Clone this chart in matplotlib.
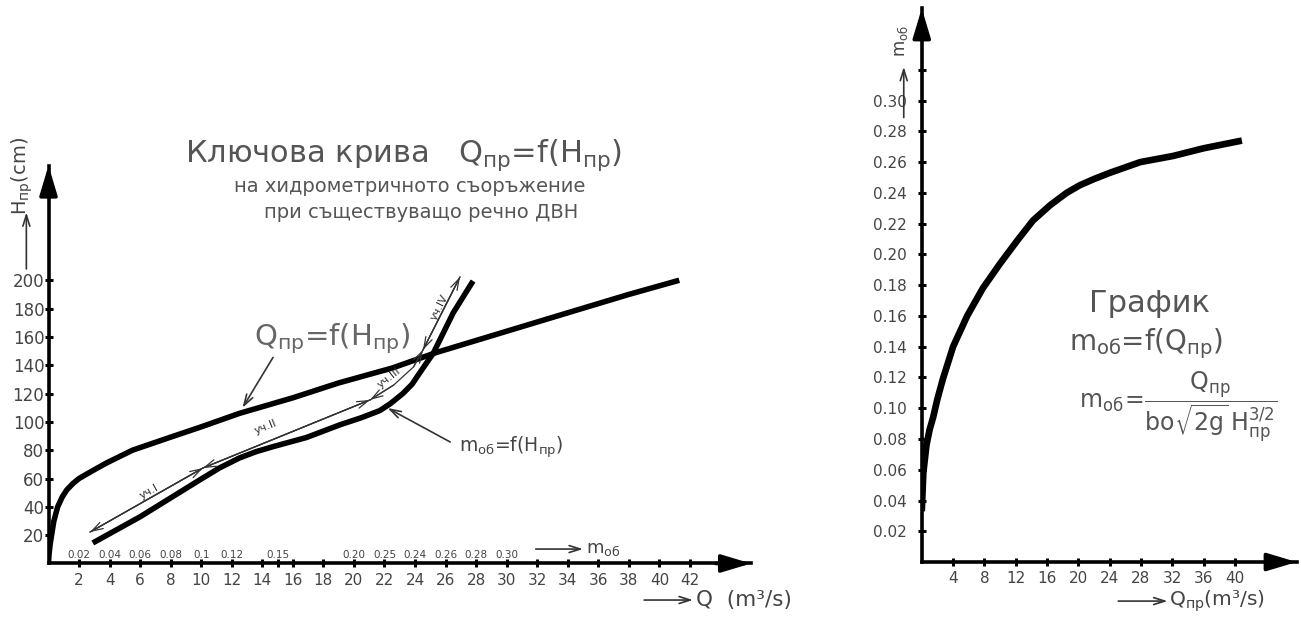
import matplotlib.pyplot as plt

plt.rcParams['font.family'] = ['DejaVu Sans']
plt.rcParams['mathtext.default'] = 'regular'

# left chart: key curve Q_пр = f(H_пр)
q_key = [0, 0.03, 0.1, 0.2, 0.35, 0.6, 0.9, 1.2, 1.6, 2.0, 2.8, 3.8, 5.5, 7.8, 10.0,
         12.5, 16.0, 19.0, 22.5, 25.4, 30.0, 34.3, 38.0, 41.3]
h_key = [0, 6, 13, 20, 30, 40, 47, 52, 56.5, 60, 65, 71, 80, 88.5, 96.5,
         106, 117, 127.5, 138, 149, 164, 178, 190, 200]

# left chart: m_об = f(H_пр), drawn on the same Q axis
q_mob = [2.9, 6.0, 9.9, 11.2, 12.5, 13.6, 14.7, 16.9, 19.1, 20.5, 21.7, 22.4, 23.2,
         23.8, 24.3, 25.2, 26.5, 27.8]
h_mob = [14.5, 33, 59, 67.5, 74.5, 79, 82.5, 89, 98, 103, 108, 113, 120,
         126.5, 134.5, 148.6, 177, 199.5]

q_ticks = [2, 4, 6, 8, 10, 12, 14, 15, 16, 18, 20, 22, 24, 26, 28, 30, 32, 34, 36,
           38, 40, 42, 44]
q_ticklabels = ['2', '4', '6', '8', '10', '12', '14', '', '16', '18', '20', '22', '24',
                '26', '28', '30', '32', '34', '36', '38', '40', '42', '']
h_ticks = [20, 40, 60, 80, 100, 120, 140, 160, 180, 200]

m_scale_q = [2, 4, 6, 8, 10, 12, 15, 20, 22, 24, 26, 28, 30]
m_scale_labels = ['0.02', '0.04', '0.06', '0.08', '0.1', '0.12', '0.15', '0.20',
                  '0.25', '0.24', '0.26', '0.28', '0.30']

# sections уч.I - уч.IV along the m_об curve
seg_names = ['уч.I', 'уч.II', 'уч.III', 'уч.IV']
seg_q = [[2.72, 10.11], [10.11, 21.05], [21.05, 22.6, 23.9, 24.52], [24.52, 26.94]]
seg_h = [[22.2, 67.4], [67.4, 115.5], [115.5, 126, 138.8, 150.8], [150.8, 202.3]]
seg_label_q = [6.6, 14.2, 22.3, 25.6]
seg_label_h = [50.5, 96.5, 131, 181]
seg_rot = [29, 22, 38, 63]

# right chart: m_об = f(Q_пр)
q_right = [0.0, 0.2, 0.6, 1.0, 1.45, 2.0, 2.7, 4.0, 5.8, 7.8, 10.0, 12.2, 14.2, 16.4,
           18.5, 20.2, 22.0, 24.0, 27.9, 32.1, 36.0, 40.9]
m_right = [0.033, 0.058, 0.076, 0.086, 0.094, 0.106, 0.119, 0.140, 0.160, 0.178,
           0.194, 0.209, 0.222, 0.232, 0.240, 0.245, 0.249, 0.253, 0.260, 0.264,
           0.269, 0.274]
qr_ticks = [4, 8, 12, 16, 20, 24, 28, 32, 36, 40]
mr_ticks = [0.02, 0.04, 0.06, 0.08, 0.10, 0.12, 0.14, 0.16, 0.18, 0.20, 0.22, 0.24,
            0.26, 0.28, 0.30, 0.32, 0.34]
mr_ticklabels = ['0.02', '0.04', '0.06', '0.08', '0.10', '0.12', '0.14', '0.16', '0.18',
                 '0.20', '0.22', '0.24', '0.26', '0.28', '0.30', '', '']

txt = '#444444'
fig = plt.figure(figsize=(13.01, 6.17), dpi=100)


def style_axes(ax):
    for s in ['top', 'right']:
        ax.spines[s].set_visible(False)
    for s in ['left', 'bottom']:
        ax.spines[s].set_linewidth(2.6)
    ax.tick_params(direction='inout', length=6, width=2.2, colors='black',
                   labelcolor=txt)
    head = dict(arrowstyle='-|>,head_length=1.5,head_width=0.45', color='black',
                lw=2.6, mutation_scale=12, shrinkA=0, shrinkB=0)
    ax.annotate('', xy=(1.0, 0), xytext=(0.95, 0), xycoords='axes fraction',
                arrowprops=head, annotation_clip=False)
    ax.annotate('', xy=(0, 1.0), xytext=(0, 0.95), xycoords='axes fraction',
                arrowprops=head, annotation_clip=False)


def small_arrow(ax, x0, y0, x1, y1, lw=1.2):
    ax.annotate('', xy=(x1, y1), xytext=(x0, y0),
                arrowprops=dict(arrowstyle='->,head_length=0.8,head_width=0.25',
                                color='#333333', lw=lw, shrinkA=0, shrinkB=0),
                annotation_clip=False)


# ---------------- left chart ----------------
ax = fig.add_axes([0.03728, 0.08671, 0.5400, 0.6450])
style_axes(ax)
ax.set_xlim(0, 46)
ax.set_ylim(0, 281)
ax.plot(q_key, h_key, color='black', lw=4.0, solid_capstyle='butt',
        solid_joinstyle='round')
ax.plot(q_mob, h_mob, color='black', lw=4.0, solid_capstyle='butt',
        solid_joinstyle='round')

ax.set_xticks(q_ticks)
ax.set_xticklabels(q_ticklabels, fontsize=11)
ax.set_yticks(h_ticks)
ax.set_yticklabels([str(v) for v in h_ticks], fontsize=12)
ax.tick_params(axis='x', pad=4)
ax.tick_params(axis='y', pad=0)

for q, lab in zip(m_scale_q, m_scale_labels):
    ax.text(q, 6, lab, fontsize=7.5, color=txt, ha='center', va='center')

# section dimension lines
for name, sq, sh, lq, lh, rot in zip(seg_names, seg_q, seg_h, seg_label_q,
                                      seg_label_h, seg_rot):
    ax.plot(sq, sh, color='#333333', lw=0.9)
    small_arrow(ax, sq[1], sh[1], sq[0], sh[0], lw=0.9)
    small_arrow(ax, sq[-2], sh[-2], sq[-1], sh[-1], lw=0.9)
    ax.text(lq, lh, name, fontsize=8, color='#333333', rotation=rot,
            rotation_mode='anchor', ha='center', va='center')

ax.text(18.6, 159, 'Q$_{пр}$=f(H$_{пр}$)', fontsize=21, color='#666666',
        ha='center', va='center')
small_arrow(ax, 14.7, 145.5, 12.7, 109.9)
ax.text(30.3, 82, 'm$_{об}$=f(H$_{пр}$)', fontsize=13.5, color=txt,
        ha='center', va='center')
small_arrow(ax, 26.3, 85.8, 22.2, 109.8)

# axis captions
small_arrow(ax, 31.9, 10.2, 35.0, 10.2)
ax.text(35.2, 10.2, 'm$_{об}$', fontsize=13, color=txt, ha='left', va='center')
small_arrow(ax, 39.0, -25.8, 42.2, -25.8)
ax.text(42.4, -25.8, 'Q  (m³/s)', fontsize=15.5, color=txt, ha='left', va='center')
small_arrow(ax, -1.45, 208, -1.45, 248)
ax.text(-1.75, 274, 'H$_{пр}$(cm)', fontsize=14, color=txt, rotation=90,
        ha='center', va='center')

fig.text(403 / 1301, 1 - 155 / 617, 'Ключова крива   Q$_{пр}$=f(H$_{пр}$)',
         fontsize=22, color='#555555', ha='center', va='center')
fig.text(410 / 1301, 1 - 186 / 617, 'на хидрометричното съоръжение',
         fontsize=14, color='#555555', ha='center', va='center')
fig.text(421 / 1301, 1 - 212 / 617, 'при съществуващо речно ДВН',
         fontsize=14, color='#555555', ha='center', va='center')

# ---------------- right chart ----------------
ax2 = fig.add_axes([0.7085, 0.0891, 0.2882, 0.8974])
style_axes(ax2)
ax2.set_xlim(0, 47.9)
ax2.set_ylim(0, 0.36)
ax2.plot(q_right, m_right, color='black', lw=4.8, solid_capstyle='butt',
         solid_joinstyle='round')
ax2.set_xticks(qr_ticks)
ax2.set_xticklabels([str(v) for v in qr_ticks], fontsize=11)
ax2.set_yticks(mr_ticks)
ax2.set_yticklabels(mr_ticklabels, fontsize=11)
ax2.tick_params(axis='y', pad=8)

ax2.text(29.15, 0.168, 'График', fontsize=22, color='#555555', ha='center',
         va='center')
ax2.text(28.6, 0.142, 'm$_{об}$=f(Q$_{пр}$)', fontsize=20, color='#555555',
         ha='center', va='center')
ax2.text(32.7, 0.101, r'$m_{об}\!=\!\dfrac{Q_{пр}}{bo\sqrt{2g}\,H_{пр}^{3/2}}$',
         fontsize=17, color='#555555', ha='center', va='center')

small_arrow(ax2, 25.1, -0.0254, 31.4, -0.0254)
ax2.text(31.6, -0.0254, 'Q$_{пр}$(m³/s)', fontsize=14.5, color=txt, ha='left',
         va='center')
small_arrow(ax2, -2.3, 0.289, -2.3, 0.322)
ax2.text(-2.6, 0.339, 'm$_{об}$', fontsize=12, color=txt, rotation=90,
         ha='center', va='center')

fig.savefig('out.png', dpi=100)
